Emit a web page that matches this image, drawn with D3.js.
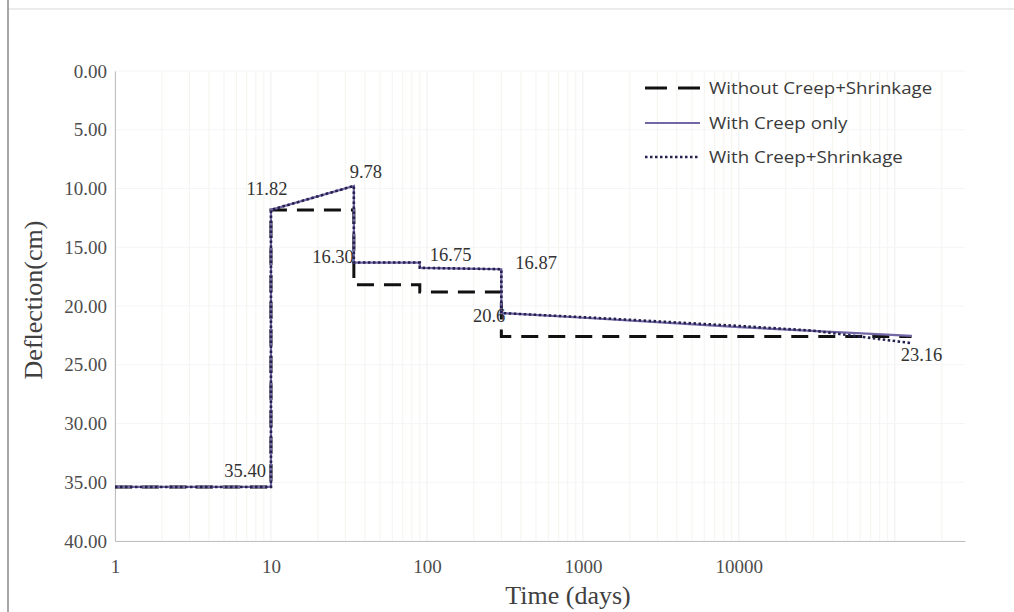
<!DOCTYPE html>
<html><head><meta charset="utf-8">
<script src="https://cdn.jsdelivr.net/npm/d3@7"></script>
<style>
html,body{margin:0;padding:0;background:#fff;}
svg{display:block;}
</style></head>
<body>
<script>
// ---- data ----
const yTicks = [0, 5, 10, 15, 20, 25, 30, 35, 40];
const xTicks = [1, 10, 100, 1000, 10000];
const seriesNames = ["Without Creep+Shrinkage", "With Creep only", "With Creep+Shrinkage"];
const withoutCS = [[1, 35.40], [10, 35.40], [10, 11.82], [34, 11.82], [34, 18.2], [90, 18.2], [90, 18.8], [300, 18.8], [300, 22.6], [128000, 22.6]];
const creepOnly = [[1, 35.40], [10, 35.40], [10, 11.82], [34, 9.78], [34, 16.30], [90, 16.30], [90, 16.75], [300, 16.87], [300, 20.6], [1000, 21.0], [10000, 21.8], [128000, 22.55]];
const creepShrink = [[1, 35.40], [10, 35.40], [10, 11.82], [34, 9.78], [34, 16.30], [90, 16.30], [90, 16.75], [300, 16.87], [300, 20.6], [1000, 20.95], [10000, 21.7], [30000, 22.1], [128000, 23.16]];
const labels = [
  {t: "35.40", p: [10, 35.40], a: "end", dx: -5, dy: -10},
  {t: "11.82", p: [10, 11.82], a: "middle", dx: -4, dy: -15},
  {t: "9.78", p: [34, 9.78], a: "middle", dx: 12, dy: -8},
  {t: "16.30", p: [34, 16.30], a: "end", dx: 0, dy: 0},
  {t: "16.75", p: [90, 16.75], a: "start", dx: 10, dy: -7},
  {t: "16.87", p: [300, 16.87], a: "start", dx: 14, dy: 0},
  {t: "20.6", p: [300, 20.6], a: "end", dx: 4, dy: 9},
  {t: "23.16", p: [128000, 23.16], a: "middle", dx: 10, dy: 18}
];

const W = 1014, H = 612;
const m = {left: 115, right: 49, top: 71, bottom: 71};
const svg = d3.select("body").append("svg").attr("width", W).attr("height", H);

// frame
svg.append("line").attr("x1", 8).attr("x2", W).attr("y1", 9).attr("y2", 9).attr("stroke", "#e4e4e4").attr("stroke-width", 1.5);
svg.append("line").attr("x1", 8).attr("x2", 8).attr("y1", 0).attr("y2", H).attr("stroke", "#8a8a8a").attr("stroke-width", 1.5);

const x = d3.scaleLog().domain([1, Math.pow(10, 5.45)]).range([m.left, W - m.right]);
const y = d3.scaleLinear().domain([0, 40]).range([m.top, H - m.bottom]);

// gridlines
const minor = [];
for (let d = 1; d < 300000; d *= 10) for (let k = 2; k <= 9; k++) if (d * k <= x.domain()[1]) minor.push(d * k);
svg.append("g").selectAll("line").data(minor).join("line")
  .attr("x1", d => x(d)).attr("x2", d => x(d)).attr("y1", y(0)).attr("y2", y(40))
  .attr("stroke", "#f6f3ee").attr("stroke-width", 1);
svg.append("g").selectAll("line").data(xTicks.concat([100000])).join("line")
  .attr("x1", d => x(d)).attr("x2", d => x(d)).attr("y1", y(0)).attr("y2", y(40))
  .attr("stroke", "#eeeeee").attr("stroke-width", 1);
svg.append("g").selectAll("line").data(yTicks).join("line")
  .attr("x1", m.left).attr("x2", W - m.right).attr("y1", d => y(d)).attr("y2", d => y(d))
  .attr("stroke", "#f5f5f5").attr("stroke-width", 1);

// axes
const serif = "'Liberation Serif','Times New Roman',serif";
const yAxis = svg.append("g").attr("transform", `translate(${m.left},0)`)
  .call(d3.axisLeft(y).tickValues(yTicks).tickFormat(d3.format(".2f")).tickSize(0).tickPadding(8));
yAxis.select(".domain").attr("stroke", "#bfbfbf");
yAxis.selectAll("text").attr("font-family", serif).attr("font-size", 19).attr("fill", "#4d4d4d");

const xAxis = svg.append("g").attr("transform", `translate(0,${y(40)})`)
  .call(d3.axisBottom(x).tickValues(xTicks).tickFormat(d3.format("d")).tickSize(0).tickPadding(19));
xAxis.select(".domain").attr("stroke", "#bfbfbf");
xAxis.selectAll("text").attr("font-family", serif).attr("font-size", 19).attr("fill", "#4d4d4d");

svg.append("text").attr("x", 568).attr("y", 604).attr("text-anchor", "middle")
  .attr("font-family", serif).attr("font-size", 26).attr("fill", "#404040").text("Time (days)");
svg.append("text").attr("transform", "translate(42,300) rotate(-90)").attr("text-anchor", "middle")
  .attr("font-family", serif).attr("font-size", 26).attr("fill", "#404040").text("Deflection(cm)");

// series
const line = d3.line().x(d => x(d[0])).y(d => y(d[1]));
const styles = [
  {data: withoutCS, stroke: "#111", w: 3, dash: "17,10", legDash: "22,11"},
  {data: creepOnly, stroke: "#7467a6", w: 2.2, dash: null, legDash: null},
  {data: creepShrink, stroke: "#23224f", w: 2.6, dash: "2.5,2.5", legDash: "2.5,2.5"}
];
styles.forEach(s => {
  svg.append("path").datum(s.data).attr("d", line).attr("fill", "none")
    .attr("stroke", s.stroke).attr("stroke-width", s.w).attr("stroke-dasharray", s.dash);
});

// labels
svg.append("g").selectAll("text").data(labels).join("text")
  .attr("x", d => x(d.p[0]) + d.dx).attr("y", d => y(d.p[1]) + d.dy)
  .attr("text-anchor", d => d.a).attr("font-family", serif).attr("font-size", 18.5).attr("fill", "#333")
  .text(d => d.t);

// legend
const lg = svg.append("g");
const ly = [88, 123, 157];
styles.forEach((s, i) => {
  lg.append("line").attr("x1", 645).attr("x2", 700).attr("y1", ly[i]).attr("y2", ly[i])
    .attr("stroke", s.stroke).attr("stroke-width", s.w).attr("stroke-dasharray", s.legDash);
  lg.append("text").attr("transform", `translate(709,${ly[i] + 6}) scale(1.1,1)`).attr("font-family", "'Open Sans',sans-serif")
    .attr("font-size", 17).attr("fill", "#3a3a3a").text(seriesNames[i]);
});
</script>
</body></html>
